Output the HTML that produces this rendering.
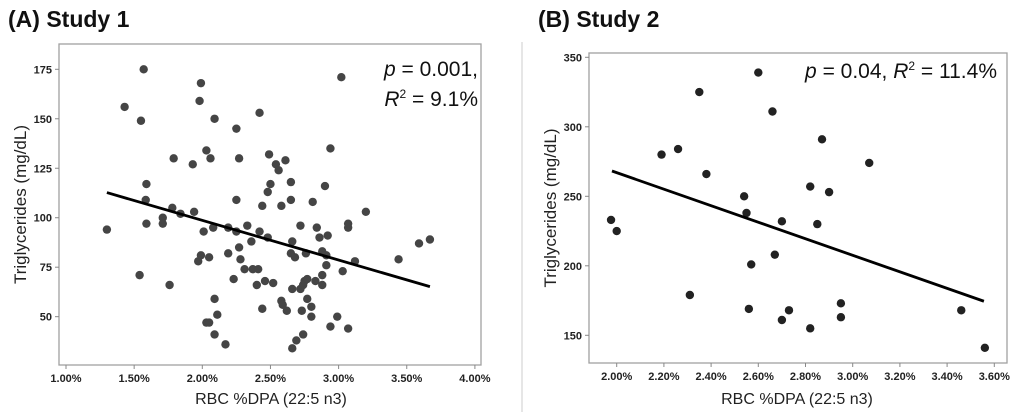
<!DOCTYPE html>
<html><head><meta charset="utf-8"><style>
body{margin:0;background:#fff;width:1024px;height:412px;overflow:hidden;font-family:"Liberation Sans",sans-serif}
svg text{font-family:"Liberation Sans",sans-serif}
</style></head><body>
<svg id="c" width="1024" height="412">
<text x="8" y="27" font-size="23" font-weight="bold" fill="#111">(A) Study 1</text>
<text x="538" y="27" font-size="23" font-weight="bold" fill="#111">(B) Study 2</text>
<line x1="522" y1="42" x2="522" y2="412" stroke="#ddd" stroke-width="1.5"/>
</svg>
<script>
const aX=[1.30,1.43,1.55,1.57,1.54,1.59,1.585,1.59,1.71,1.71,1.76,1.78,1.79,1.84,1.93,1.94,1.97,1.99,1.98,1.99,2.01,2.03,2.03,2.05,2.06,2.05,2.08,2.09,2.09,2.09,2.11,2.17,2.19,2.19,2.23,2.25,2.25,2.25,2.27,2.27,2.28,2.31,2.33,2.36,2.37,2.40,2.41,2.42,2.42,2.44,2.44,2.46,2.48,2.49,2.50,2.48,2.52,2.54,2.56,2.58,2.58,2.59,2.61,2.62,2.65,2.65,2.66,2.65,2.66,2.66,2.68,2.69,2.72,2.72,2.73,2.74,2.74,2.75,2.77,2.76,2.77,2.80,2.80,2.81,2.84,2.83,2.86,2.88,2.88,2.88,2.90,2.91,2.91,2.92,2.94,2.94,2.99,3.02,3.03,3.07,3.07,3.07,3.12,3.20,3.44,3.59,3.67];
const aY=[94,156,149,175,71,117,109,97,100,97,66,105,130,102,127,103,78,168,159,81,93,134,47,47,130,80,95,150,59,41,51,36,82,95,69,145,109,93,130,85,79,74,96,88,74,66,74,153,93,106,54,68,90,132,117,113,67,127,124,106,58,56,129,53,118,109,88,82,64,34,80,38,96,64,53,41,66,68,69,82,59,55,50,108,95,68,90,83,71,66,116,81,76,91,135,45,50,171,73,44,95,97,78,103,79,87,89];
const aFit=[[1.30,112.7],[3.67,65.2]];
const aXTicks=[1,1.5,2,2.5,3,3.5,4];
const aYTicks=[50,75,100,125,150,175];
const bX=[1.976,2.00,2.19,2.26,2.31,2.35,2.38,2.54,2.55,2.56,2.57,2.60,2.66,2.67,2.70,2.70,2.73,2.82,2.82,2.85,2.87,2.90,2.95,2.95,3.07,3.46,3.56];
const bY=[233,225,280,284,179,325,266,250,238,169,201,339,311,208,232,161,168,257,155,230,291,253,173,163,274,168,141];
const bFit=[[1.98,268.2],[3.556,174.5]];
const bXTicks=[2.0,2.2,2.4,2.6,2.8,3.0,3.2,3.4,3.6];
const bYTicks=[150,200,250,300,350];

const svg=document.getElementById('c');const NS='http://www.w3.org/2000/svg';
function mk(t,a,txt){const e=document.createElementNS(NS,t);for(const k in a)e.setAttribute(k,a[k]);if(txt!==undefined)e.textContent=txt;svg.appendChild(e);return e;}
function panel(p,cfg,xs,ys,fit,xt,yt){
  const sx=v=>cfg.x0+(v-cfg.xv0)*cfg.xk, sy=v=>cfg.y0-(v-cfg.yv0)*cfg.yk;
  let e=mk('rect',{x:cfg.bx1,y:cfg.by1,width:cfg.bx2-cfg.bx1,height:cfg.by2-cfg.by1,fill:'none',stroke:'#a0a0a0','stroke-width':1.3});
  
  
  xt.forEach(v=>{const x=sx(v);
    let l=mk('line',{x1:x,x2:x,y1:cfg.by2,y2:cfg.by2+4,stroke:'#888'});
    
    
    let t=mk('text',{x:x,y:cfg.by2+17,'font-size':11,'text-anchor':'middle',fill:'#222','font-weight':'bold'},v.toFixed(2)+'%');
    
    });
  yt.forEach(v=>{const y=sy(v);
    let l=mk('line',{x1:cfg.bx1-4,x2:cfg.bx1,y1:y,y2:y,stroke:'#888'});
    
    
    let t=mk('text',{x:cfg.bx1-7,y:y+4,'font-size':11,'text-anchor':'end',fill:'#222','font-weight':'bold'},v);
    
    });
  xs.forEach((v,i)=>{let c=mk('circle',{cx:sx(v),cy:sy(ys[i]),r:4.2,fill:cfg.dot});
    
    });
  let f=mk('line',{x1:sx(fit[0][0]),y1:sy(fit[0][1]),x2:sx(fit[1][0]),y2:sy(fit[1][1]),stroke:'#000','stroke-width':2.8});
  
  
  let xtl=mk('text',{x:cfg.xtx,y:404,'font-size':16,'text-anchor':'middle',fill:'#222'},'RBC %DPA (22:5 n3)');
  
  
  let ytl=mk('text',{x:0,y:0,'font-size':17,'text-anchor':'middle',fill:'#222',transform:`translate(${cfg.ytx},${(cfg.by1+cfg.by2)/2}) rotate(-90)`},'Triglycerides (mg/dL)');
  
  
}
panel('panel-a',{x0:66,xv0:1,xk:136.3,y0:69.3,yv0:175,yk:1.979,bx1:59,bx2:481,by1:44,by2:365,dot:'#454545',xtx:271,ytx:26},aX,aY,aFit,aXTicks,aYTicks);
panel('panel-b',{x0:616.7,xv0:2,xk:236,y0:57.3,yv0:350,yk:1.39,bx1:589,bx2:1007,by1:53,by2:363,dot:'#222',xtx:797,ytx:556},bX,bY,bFit,bXTicks,bYTicks);
</script>
<svg style="position:absolute;left:0;top:0" width="1024" height="412">
<text x="478" y="76" font-size="21" text-anchor="end" fill="#111"><tspan font-style="italic">p</tspan> = 0.001,</text>
<text x="478" y="106" font-size="21" text-anchor="end" fill="#111"><tspan font-style="italic">R</tspan><tspan font-size="12" dy="-8">2</tspan><tspan dy="8"> = 9.1%</tspan></text>
<text x="997" y="78" font-size="21" text-anchor="end" fill="#111"><tspan font-style="italic">p</tspan> = 0.04, <tspan font-style="italic">R</tspan><tspan font-size="12" dy="-8">2</tspan><tspan dy="8"> = 11.4%</tspan></text>
</svg>
</body></html>
